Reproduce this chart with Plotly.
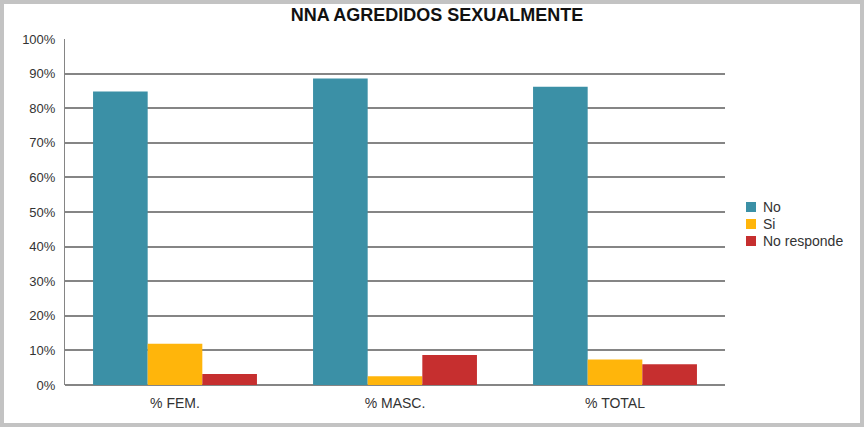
import plotly.graph_objects as go

categories = ["% FEM.", "% MASC.", "% TOTAL"]
series_names = ["No", "Si", "No responde"]
no_vals = [0.848, 0.886, 0.862]
si_vals = [0.119, 0.025, 0.074]
nr_vals = [0.032, 0.087, 0.060]
y_ticks = [i / 10 for i in range(11)]

colors = ["#3b90a6", "#ffb50b", "#c62f2f"]

W, H = 864, 427
ml, mr, mt, mb = 65, 139, 39, 42
pw = W - ml - mr
ph = H - mt - mb


def px_x(x):
    return (x - ml) / pw


def px_y(y):
    return 1 - (y - mt) / ph


fig = go.Figure()
for name, vals, col in zip(series_names, [no_vals, si_vals, nr_vals], colors):
    fig.add_trace(go.Bar(
        x=categories, y=vals, name=name,
        marker=dict(color=col, line=dict(width=0)),
        showlegend=False,
    ))

# grey frame around the whole picture
fig.add_shape(
    type="rect", xref="paper", yref="paper",
    x0=px_x(2), x1=px_x(W - 2), y0=px_y(H - 2), y1=px_y(2),
    line=dict(color="#c3c3c3", width=4), layer="below",
)

# legend: small coloured squares with labels
for i, (name, col) in enumerate(zip(series_names, colors)):
    yc = 207 + 17 * i
    fig.add_shape(
        type="rect", xref="paper", yref="paper",
        x0=px_x(746), x1=px_x(756), y0=px_y(yc + 5), y1=px_y(yc - 5),
        fillcolor=col, line=dict(width=0),
    )
    fig.add_annotation(
        xref="paper", yref="paper",
        x=px_x(761), y=px_y(yc),
        xanchor="left", yanchor="middle", showarrow=False,
        text=name, font=dict(size=14, color="#333"),
    )

fig.update_layout(
    width=W, height=H,
    margin=dict(l=ml, r=mr, t=mt, b=mb, autoexpand=False),
    paper_bgcolor="white", plot_bgcolor="white",
    barmode="group", bargap=0.255, bargroupgap=0,
    font=dict(family="Liberation Sans, Arial, sans-serif", size=13, color="#333"),
    title=dict(
        text="<b>NNA AGREDIDOS SEXUALMENTE</b>",
        x=437 / W, xref="container", xanchor="center",
        y=1 - 15 / H, yanchor="middle",
        font=dict(size=18, color="#111"),
    ),
    showlegend=False,
    xaxis=dict(
        showline=False, ticks="", showgrid=False, automargin=False,
        ticklabelstandoff=8,
        tickfont=dict(size=14, color="#333"),
    ),
    yaxis=dict(
        range=[0, 1], tickvals=y_ticks, tickformat=".0%", automargin=False,
        showgrid=True, gridcolor="#858585", gridwidth=1.6,
        showline=True, linecolor="#858585", linewidth=1,
        zeroline=True, zerolinecolor="#858585", zerolinewidth=1.6,
        ticks="", ticklabelstandoff=6,
        tickfont=dict(size=13, color="#333"),
    ),
)

fig.write_html(
    "out.html",
    config={"displayModeBar": False},
    post_script="document.body.style.margin='0';",
)
